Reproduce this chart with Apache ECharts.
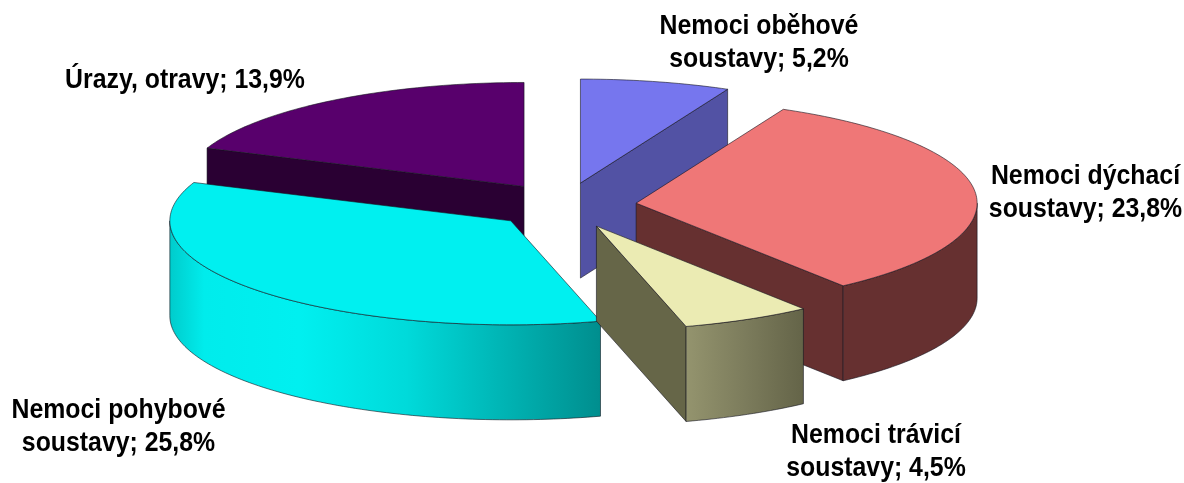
<!DOCTYPE html>
<html>
<head>
<meta charset="utf-8">
<style>html,body{margin:0;padding:0;background:#fff}#c{width:1184px;height:483px}</style>
<script src="https://cdn.jsdelivr.net/npm/echarts@6/dist/echarts.min.js"></script>
</head>
<body>
<div id="c"></div>
<script>
// Data
var categories = ['Nemoci oběhové\nsoustavy', 'Nemoci dýchací\nsoustavy', 'Nemoci trávicí\nsoustavy', 'Nemoci pohybové\nsoustavy', 'Úrazy, otravy'];
var values = [5.2, 23.8, 4.5, 25.8, 13.9];

// Styling, one entry per category
var topColors = ['#7676EE', '#EF7777', '#EBEBB3', '#00F0F0', '#58006C'];
var wallColors = ['#5252A4', '#663030', '#666648', '#00E4E4', '#2A0033'];
var curveStops = [null, null,
  [[0, '#94946E'], [0.5, '#7C7C5C'], [1, '#646448']],
  [[0, '#00CCCC'], [0.08, '#00ECEC'], [0.3, '#00F0F0'], [0.55, '#00DADA'], [0.8, '#00B0B0'], [1, '#008E8E']],
  null];
var labelCentres = [[759, 10], [1085.5, 160], [876, 419], [118.5, 394], [185, 64]];
var drawOrder = [4, 0, 1, 3, 2];

// Pie projection (pixels in the hidden 1184x483 axes)
var CX = 564.5, CY = 205.5, RX = 341, RY = 104, DEPTH = 95, EX = 72, EY = 23;

var total = values.reduce(function (a, b) { return a + b; }, 0);
var spans = [];
(function () {
  var a = -Math.PI / 2;
  values.forEach(function (v) {
    var b = a + v / total * Math.PI * 2;
    spans.push([a, b]);
    a = b;
  });
})();

function arcPoints(cx, cy, from, to) {
  var n = Math.max(2, Math.ceil(Math.abs(to - from) / 0.02));
  var pts = [];
  for (var i = 0; i <= n; i++) {
    var t = from + (to - from) * i / n;
    pts.push([cx + RX * Math.cos(t), cy + RY * Math.sin(t)]);
  }
  return pts;
}

function renderSlice(params, api) {
  var idx = api.value(0);
  var span = spans[idx], t1 = span[0], t2 = span[1], mid = (t1 + t2) / 2;
  var cx = CX + EX * Math.cos(mid), cy = CY + EY * Math.sin(mid);
  var stroke = 'rgba(20,20,30,0.75)';
  var children = [];
  function poly(points, fill) {
    children.push({
      type: 'polygon',
      shape: { points: points.map(function (p) { return api.coord(p); }) },
      style: { fill: fill, stroke: stroke, lineWidth: 0.8, lineJoin: 'round' }
    });
  }
  function wall(p, q, fill) {
    poly([p, q, [q[0], q[1] + DEPTH], [p[0], p[1] + DEPTH]], fill);
  }
  var first = [cx + RX * Math.cos(t1), cy + RY * Math.sin(t1)];
  var last = [cx + RX * Math.cos(t2), cy + RY * Math.sin(t2)];
  // radial faces turned towards the viewer
  if (-Math.cos(t1) > 0.01) wall([cx, cy], first, wallColors[idx]);
  if (Math.cos(t2) > 0.01) wall([cx, cy], last, wallColors[idx]);
  // outer curved face: its visible part is where sin(t) >= 0 (unwrapped)
  var ranges = [[0, Math.PI], [2 * Math.PI, 3 * Math.PI]];
  ranges.forEach(function (r) {
    var a = Math.max(t1, r[0]), b = Math.min(t2, r[1]);
    if (b <= a) return;
    var upper = arcPoints(cx, cy, a, b);
    var lower = arcPoints(cx, cy + DEPTH, b, a);
    var fill = wallColors[idx];
    if (curveStops[idx]) {
      var xs = upper.map(function (p) { return api.coord(p)[0]; });
      fill = new echarts.graphic.LinearGradient(
        Math.min.apply(null, xs), 0, Math.max.apply(null, xs), 0,
        curveStops[idx].map(function (s) { return { offset: s[0], color: s[1] }; }),
        true
      );
    }
    poly(upper.concat(lower), fill);
  });
  // top face
  poly([[cx, cy]].concat(arcPoints(cx, cy, t1, t2)), topColors[idx]);
  return { type: 'group', children: children };
}

function renderLabel(params, api) {
  var idx = api.value(0);
  var c = api.coord(labelCentres[idx]);
  return {
    type: 'text',
    x: c[0],
    y: c[1],
    scaleX: 0.92,
    style: {
      text: categories[idx] + '; ' + values[idx].toFixed(1).replace('.', ',') + '%',
      font: 'bold 27px "Liberation Sans", Arial, sans-serif',
      fill: '#000',
      align: 'center',
      verticalAlign: 'top',
      lineHeight: 33
    }
  };
}

var chart = echarts.init(document.getElementById('c'), null, { renderer: 'canvas' });
chart.setOption({
  animation: false,
  backgroundColor: '#ffffff',
  grid: { left: 0, right: 0, top: 0, bottom: 0 },
  xAxis: { type: 'value', min: 0, max: 1184, show: false },
  yAxis: { type: 'value', min: 0, max: 483, inverse: true, show: false },
  series: [
    {
      type: 'custom', clip: false, silent: true, renderItem: renderSlice,
      encode: { x: 0, y: 1 },
      data: drawOrder.map(function (i) { return [i, values[i]]; })
    },
    {
      type: 'custom', clip: false, silent: true, renderItem: renderLabel,
      encode: { x: 0, y: 1 },
      data: categories.map(function (c, i) { return [i, values[i]]; })
    }
  ]
});
</script>
</body>
</html>
